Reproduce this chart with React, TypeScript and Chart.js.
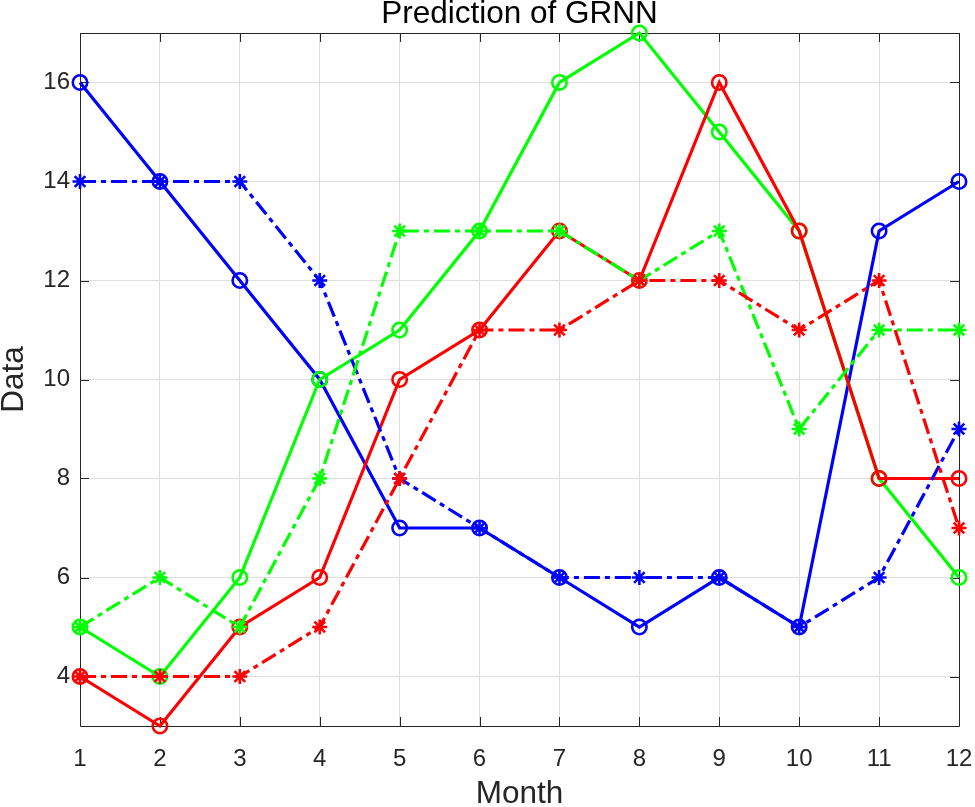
import React, { useEffect, useRef } from 'react';
import { Chart, registerables } from 'chart.js';

Chart.register(...registerables);

const months = ['1', '2', '3', '4', '5', '6', '7', '8', '9', '10', '11', '12'];
const yTicks = [4, 6, 8, 10, 12, 14, 16];

const blueSolid = [16, 14, 12, 10, 7, 7, 6, 5, 6, 5, 13, 14];
const blueDash = [14, 14, 14, 12, 8, 7, 6, 6, 6, 5, 6, 9];
const greenSolid = [5, 4, 6, 10, 11, 13, 16, 17, 15, 13, 8, 6];
const greenDash = [5, 6, 5, 8, 13, 13, 13, 12, 13, 9, 11, 11];
const redSolid = [4, 3, 5, 6, 10, 11, 13, 12, 16, 13, 8, 8];
const redDash = [4, 4, 4, 5, 8, 11, 11, 12, 12, 11, 12, 7];

const FONT = "'Liberation Sans', Arial, Helvetica, sans-serif";
const AXIS = '#262626';
const GRID = '#dedede';
const DASHDOT = [16, 5, 5, 5];

const boxPlugin = {
  id: 'matlabBox',
  beforeDatasetsDraw(chart: any) {
    const { ctx, chartArea } = chart;
    const { left, right, top, bottom } = chartArea;
    const xs = chart.scales.x;
    const ys = chart.scales.y;
    const tl = 9;
    ctx.save();
    ctx.strokeStyle = AXIS;
    ctx.lineWidth = 1;
    ctx.beginPath();
    ctx.rect(Math.round(left) + 0.5, Math.round(top) + 0.5, Math.round(right - left), Math.round(bottom - top));
    ctx.stroke();
    ctx.beginPath();
    months.forEach((_, i) => {
      const x = Math.round(xs.getPixelForValue(i)) + 0.5;
      ctx.moveTo(x, bottom);
      ctx.lineTo(x, bottom - tl);
      ctx.moveTo(x, top);
      ctx.lineTo(x, top + tl);
    });
    yTicks.forEach((v) => {
      const y = Math.round(ys.getPixelForValue(v)) + 0.5;
      ctx.moveTo(left, y);
      ctx.lineTo(left + tl, y);
      ctx.moveTo(right, y);
      ctx.lineTo(right - tl, y);
    });
    ctx.stroke();
    ctx.restore();
  },
};

function series(data: number[], color: string, dashed: boolean, order: number) {
  return {
    data,
    borderColor: color,
    backgroundColor: 'rgba(0,0,0,0)',
    borderWidth: 3.2,
    borderDash: dashed ? DASHDOT : [],
    pointStyle: dashed ? 'star' : 'circle',
    pointRadius: dashed ? 7.5 : 7.2,
    pointBorderWidth: 2.6,
    pointBorderColor: color,
    pointBackgroundColor: 'rgba(0,0,0,0)',
    pointHoverRadius: 7.2,
    tension: 0,
    fill: false,
    clip: false as any,
    order,
  };
}

export default function App() {
  const ref = useRef<HTMLCanvasElement | null>(null);

  useEffect(() => {
    if (!ref.current) return;
    const chart = new Chart(ref.current, {
      type: 'line',
      data: {
        labels: months,
        datasets: [
          series(blueSolid, '#0000ff', false, 6),
          series(greenSolid, '#00ff00', false, 5),
          series(redSolid, '#ff0000', false, 4),
          series(blueDash, '#0000ff', true, 3),
          series(greenDash, '#00ff00', true, 2),
          series(redDash, '#ff0000', true, 1),
        ] as any,
      },
      options: {
        responsive: false,
        animation: false,
        events: [],
        layout: { padding: { top: 0, right: 16, left: 0, bottom: 0 } },
        plugins: {
          legend: { display: false },
          tooltip: { enabled: false },
          title: {
            display: true,
            text: 'Prediction of GRNN',
            color: '#000000',
            fullSize: false,
            font: { family: FONT, size: 31.5, weight: 'normal', lineHeight: 0.9 },
            padding: { top: 0, bottom: 4.65 },
          },
        },
        scales: {
          x: {
            type: 'category',
            offset: false,
            grid: { color: GRID, lineWidth: 1, drawTicks: false },
            border: { display: false },
            ticks: {
              color: AXIS,
              font: { family: FONT, size: 24 },
              padding: 19,
              maxRotation: 0,
              autoSkip: false,
            },
            title: {
              display: true,
              text: 'Month',
              color: AXIS,
              font: { family: FONT, size: 31.5, lineHeight: 0.8 },
              padding: 0,
            },
            afterFit: (s: any) => {
              s.height = 81;
              s.paddingLeft = 0;
              s.paddingRight = 0;
            },
          },
          y: {
            type: 'linear',
            min: 3,
            max: 17,
            afterBuildTicks: (s: any) => {
              s.ticks = yTicks.map((v) => ({ value: v }));
            },
            grid: { color: GRID, lineWidth: 1, drawTicks: false },
            border: { display: false },
            ticks: {
              color: AXIS,
              font: { family: FONT, size: 24 },
              padding: 10,
            },
            title: {
              display: true,
              text: 'Data',
              color: AXIS,
              font: { family: FONT, size: 31.5, lineHeight: 0.93 },
              padding: 0,
            },
            afterFit: (s: any) => {
              s.width = 80;
              s.paddingTop = 0;
              s.paddingBottom = 0;
            },
          },
        },
      } as any,
      plugins: [boxPlugin],
    });
    return () => chart.destroy();
  }, []);

  return (
    <div style={{ position: 'fixed', left: 0, top: 0, width: 975, height: 807, background: '#ffffff' }}>
      <canvas ref={ref} width={975} height={807} style={{ display: 'block', width: 975, height: 807 }} />
    </div>
  );
}
